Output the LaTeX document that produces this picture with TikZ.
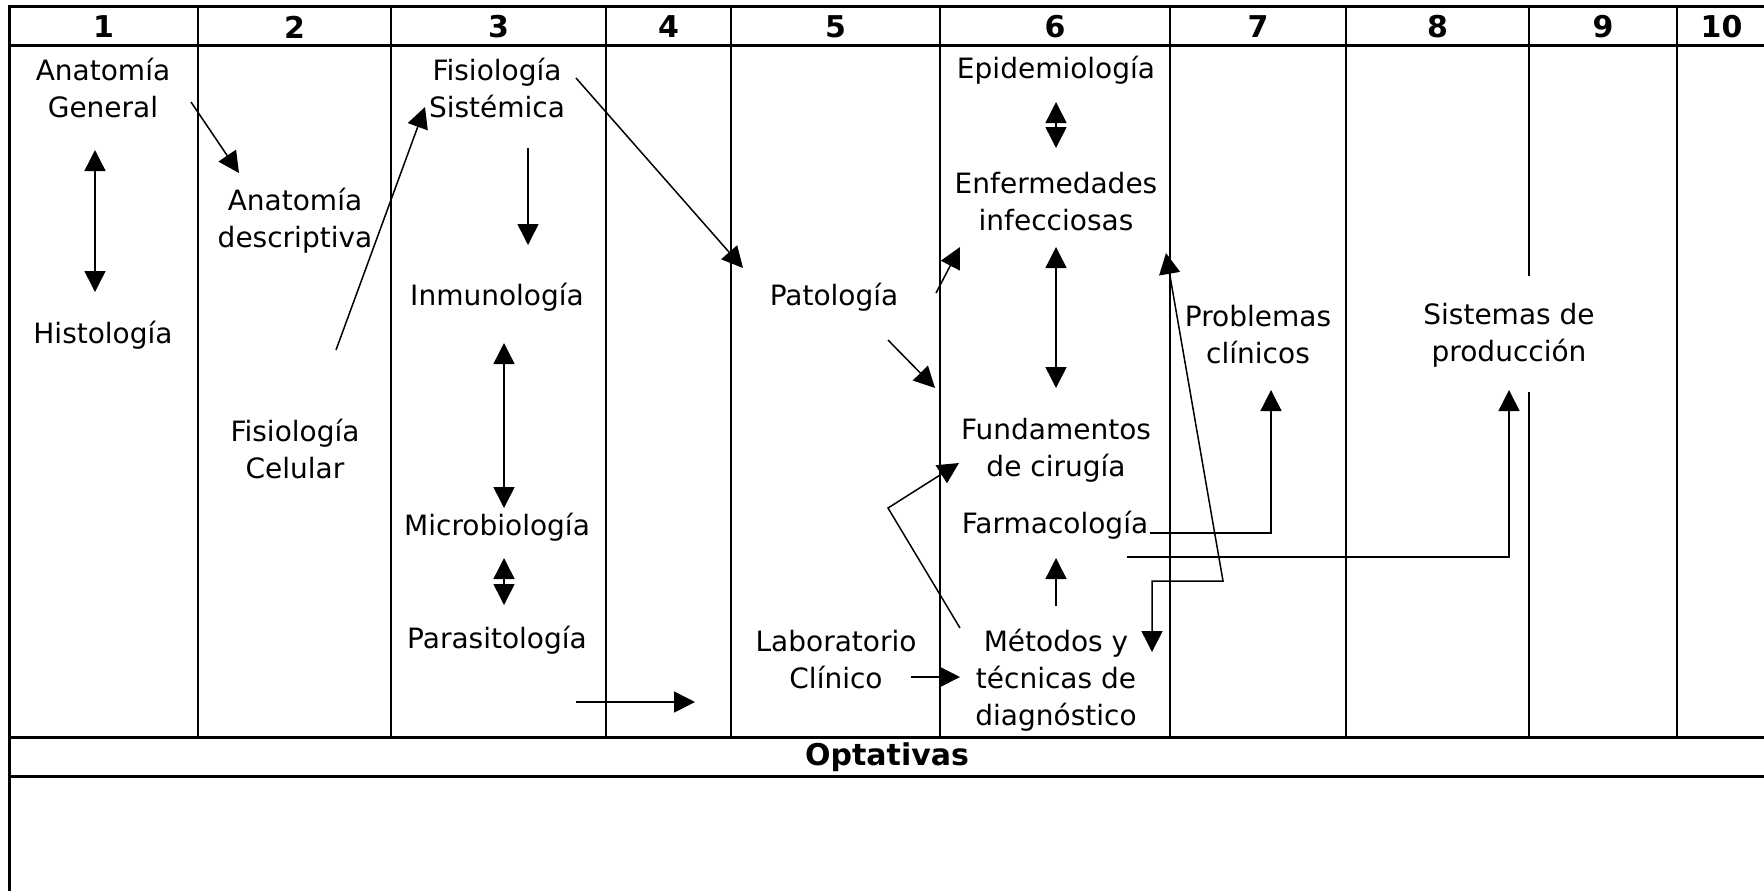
\documentclass[tikz,border=0pt]{standalone}
\usepackage{fontspec}
\setmainfont{DejaVu Sans}
\usetikzlibrary{arrows.meta}

\begin{document}
\begin{tikzpicture}[x=0.5pt,y=-0.5pt,
    frame/.style={line width=1.3pt},
    rule/.style={line width=1.5pt},
    link/.style={line width=0.75pt,-{Triangle[length=10.5pt,width=10.5pt]}},
    both/.style={line width=0.75pt,{Triangle[length=10.5pt,width=10.5pt]}-{Triangle[length=10.5pt,width=10.5pt]}},
    subject/.style={align=center,inner sep=0pt,font=\fontsize{14}{18.5}\selectfont},
    colnum/.style={inner sep=0pt,font=\bfseries\fontsize{15}{17}\selectfont}]
    \useasboundingbox (0,0) rectangle (1764,891);

    % table
    \draw[rule] (9,891) -- (9,6) -- (1770,6);
    \draw[rule] (9,45) -- (1770,45);
    \draw[rule] (9,737) -- (1770,737);
    \draw[rule] (9,776) -- (1770,776);
    \foreach \x in {198,391,606,731,940,1170,1346,1677}
        \draw[frame] (\x,6) -- (\x,737);
    \draw[frame] (1529,6) -- (1529,276) (1529,392) -- (1529,737);
    \foreach \a/\b [count=\i] in {9/198,198/391,391/606,606/731,731/940,940/1170,1170/1346,1346/1529,1529/1677,1677/1766}
        \node[colnum] (h\i) at ({(\a+\b)/2},27) {\i};
    \node[colnum] (opt) at (887,757) {Optativas};

    % subjects
    \node[subject] (anag)  at (103,88)   {Anatomía\\General};
    \node[subject] (histo) at (103,335)  {Histología};
    \node[subject] (anad)  at (295,221)  {Anatomía\\descriptiva};
    \node[subject] (fisc)  at (295,449)  {Fisiología\\Celular};
    \node[subject] (fiss)  at (497,88)   {Fisiología\\Sistémica};
    \node[subject] (inmu)  at (497,297)  {Inmunología};
    \node[subject] (micro) at (497,527)  {Microbiología};
    \node[subject] (para)  at (497,640)  {Parasitología};
    \node[subject] (pato)  at (834,297)  {Patología};
    \node[subject] (lab)   at (836,660)  {Laboratorio\\Clínico};
    \node[subject] (epi)   at (1056,70)  {Epidemiología};
    \node[subject] (enf)   at (1056,202) {Enfermedades\\infecciosas};
    \node[subject] (fund)  at (1056,450) {Fundamentos\\de cirugía};
    \node[subject] (farma) at (1055,525) {Farmacología};
    \node[subject] (met)   at (1056,680) {Métodos y\\técnicas de\\diagnóstico};
    \node[subject] (prob)  at (1258,335) {Problemas\\clínicos};
    \node[subject] (sist)  at (1509,335) {Sistemas de\\producción};

    % connector ends
    \coordinate (c1a) at (95,150);   \coordinate (c1b) at (95,292);
    \coordinate (c2a) at (191,102);  \coordinate (c2b) at (239,173);
    \coordinate (c3a) at (336,350);  \coordinate (c3b) at (425,107);
    \coordinate (c4a) at (528,148);  \coordinate (c4b) at (528,245);
    \coordinate (c5a) at (576,78);   \coordinate (c5b) at (743,268);
    \coordinate (c6a) at (504,343);  \coordinate (c6b) at (504,508);
    \coordinate (c7a) at (504,558);  \coordinate (c7b) at (504,605);
    \coordinate (c8a) at (576,702);  \coordinate (c8b) at (695,702);
    \coordinate (e1a) at (1056,102); \coordinate (e1b) at (1056,148);
    \coordinate (e2a) at (1056,247); \coordinate (e2b) at (1056,388);
    \coordinate (p1a) at (936,293);  \coordinate (p1b) at (960,247);
    \coordinate (p2a) at (888,340);  \coordinate (p2b) at (935,388);
    \coordinate (m1a) at (960,628);  \coordinate (m1k) at (888,508);  \coordinate (m1b) at (959,463);
    \coordinate (l1a) at (911,677);  \coordinate (l1b) at (960,677);
    \coordinate (m2a) at (1056,606); \coordinate (m2b) at (1056,558);
    \coordinate (f1a) at (1150,533); \coordinate (f1b) at (1271,390);
    \coordinate (f2a) at (1127,557); \coordinate (f2b) at (1509,390);
    \coordinate (r1a) at (1152,652); \coordinate (r1k) at (1152,581);
    \coordinate (r1j) at (1223,581); \coordinate (r1b) at (1166,253);

    % connectors
    \draw[both] (c1a) -- (c1b);
    \draw[link] (c2a) -- (c2b);
    \draw[link] (c3a) -- (c3b);
    \draw[link] (c4a) -- (c4b);
    \draw[link] (c5a) -- (c5b);
    \draw[both] (c6a) -- (c6b);
    \draw[both] (c7a) -- (c7b);
    \draw[link] (c8a) -- (c8b);
    \draw[both] (e1a) -- (e1b);
    \draw[both] (e2a) -- (e2b);
    \draw[link] (p1a) -- (p1b);
    \draw[link] (p2a) -- (p2b);
    \draw[link] (m1a) -- (m1k) -- (m1b);
    \draw[link] (l1a) -- (l1b);
    \draw[link] (m2a) -- (m2b);
    \draw[link] (f1a) -| (f1b);
    \draw[link] (f2a) -| (f2b);
    \draw[both] (r1a) -- (r1k) -- (r1j) -- (r1b);
\end{tikzpicture}
\end{document}
